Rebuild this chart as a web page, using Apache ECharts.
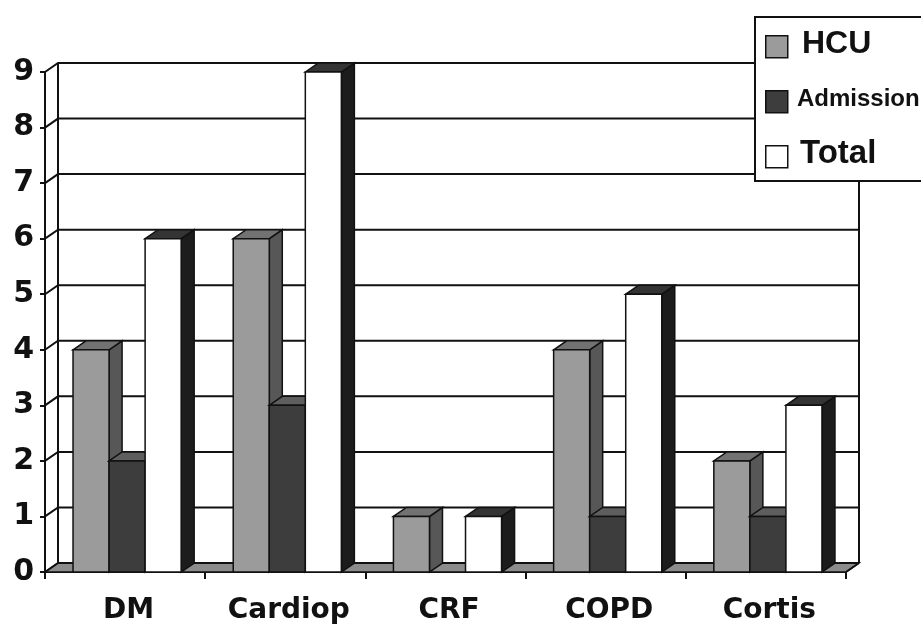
<!DOCTYPE html>
<html>
<head>
<meta charset="utf-8">
<script src="https://cdn.jsdelivr.net/npm/echarts@6/dist/echarts.min.js"></script>
<style>html,body{margin:0;padding:0;background:#fff;}#c{width:921px;height:632px;}</style>
</head>
<body>
<div id="c"></div>
<script>
const categories = ['DM', 'Cardiop', 'CRF', 'COPD', 'Cortis'];
const hcu = [4, 6, 1, 4, 2];
const admission = [2, 3, 0, 1, 1];
const total = [6, 9, 1, 5, 3];
const yTicks = [0, 1, 2, 3, 4, 5, 6, 7, 8, 9];
const seriesNames = ['HCU', 'Admission', 'Total'];

const DX = 13, DY = -9;
const palettes = [
  { front: '#9b9b9b', top: '#727272', side: '#575757' },
  { front: '#3d3d3d', top: '#5e5e5e', side: '#2a2a2a' },
  { front: '#ffffff', top: '#343434', side: '#1c1c1c' }
];

function barRenderer(idx) {
  const pal = palettes[idx];
  return function (params, api) {
    const i = api.value(0), v = api.value(1);
    if (!v) return null;
    const band = api.size([1, 0])[0];
    const w = band * 0.225;
    const c = api.coord([i, v]);
    const b = api.coord([i, 0]);
    const left = c[0] - 1.5 * w + idx * w + 2;
    const right = left + w;
    const yt = c[1], yb = b[1];
    const st = { stroke: '#111', lineWidth: 1.5 };
    return {
      type: 'group',
      children: [
        { type: 'polygon', shape: { points: [[right, yt], [right + DX, yt + DY], [right + DX, yb + DY], [right, yb]] },
          style: Object.assign({ fill: pal.side }, st) },
        { type: 'polygon', shape: { points: [[left, yt], [left + DX, yt + DY], [right + DX, yt + DY], [right, yt]] },
          style: Object.assign({ fill: pal.top }, st) },
        { type: 'rect', shape: { x: left, y: yt, width: w, height: yb - yt },
          style: Object.assign({ fill: pal.front }, st) }
      ]
    };
  };
}

function wallRenderer(params, api) {
  const band = api.size([1, 0])[0];
  const x0 = api.coord([0, 0])[0] - band / 2;
  const x1 = api.coord([categories.length - 1, 0])[0] + band / 2;
  const y0 = api.coord([0, 0])[1];
  const yTop = api.coord([0, yTicks[yTicks.length - 1]])[1];
  const children = [];
  const ls = { stroke: '#111', lineWidth: 2, fill: null };
  children.push({ type: 'polygon', shape: { points: [[x0, y0], [x1, y0], [x1 + DX, y0 + DY], [x0 + DX, y0 + DY]] },
    style: { fill: '#8c8c8c', stroke: '#111', lineWidth: 1.5 } });
  yTicks.forEach(function (t) {
    const y = api.coord([0, t])[1];
    children.push({ type: 'polyline', shape: { points: [[x0, y], [x0 + DX, y + DY], [x1 + DX, y + DY]] }, style: ls });
  });
  children.push({ type: 'line', shape: { x1: x0 + DX, y1: yTop + DY, x2: x0 + DX, y2: y0 + DY }, style: ls });
  children.push({ type: 'line', shape: { x1: x1 + DX, y1: yTop + DY, x2: x1 + DX, y2: y0 + DY }, style: ls });
  children.push({ type: 'line', shape: { x1: x1, y1: y0, x2: x1 + DX, y2: y0 + DY }, style: ls });
  return { type: 'group', children: children };
}

const chart = echarts.init(document.getElementById('c'), null, { renderer: 'canvas' });

const barSeries = [hcu, admission, total].map(function (arr, idx) {
  return {
    type: 'custom',
    name: seriesNames[idx],
    renderItem: barRenderer(idx),
    encode: { x: 0, y: 1 },
    itemStyle: { color: palettes[idx].front },
    data: arr.map(function (v, i) { return [i, v]; }),
    z: 3 + idx
  };
});

const legendItems = [
  { name: 'HCU', y: 46, fill: '#9b9b9b', font: 32 },
  { name: 'Admission', y: 101, fill: '#3d3d3d', font: 24 },
  { name: 'Total', y: 156, fill: '#ffffff', font: 33 }
];
const legendGraphics = [
  { type: 'rect', left: 754, top: 16, shape: { width: 200, height: 164 },
    style: { fill: '#fff', stroke: '#111', lineWidth: 2 }, z: 100 }
];
legendItems.forEach(function (it) {
  legendGraphics.push({ type: 'rect', left: 765, top: it.y - 11, shape: { width: 22, height: 22 },
    style: { fill: it.fill, stroke: '#111', lineWidth: 1.5 }, z: 101 });
  legendGraphics.push({ type: 'text', left: it.name === 'Admission' ? 797 : (it.name === 'HCU' ? 802 : 800), top: it.y - it.font * 0.56,
    style: { text: it.name, fill: '#111', font: 'bold ' + it.font + 'px "Liberation Sans", Arial, sans-serif' }, z: 101 });
});

chart.setOption({
  animation: false,
  backgroundColor: '#fff',
  grid: { left: 45, right: 75, top: 72, bottom: 60, containLabel: false },
  xAxis: {
    type: 'category',
    data: categories,
    axisLine: { show: true, lineStyle: { color: '#111', width: 2 } },
    axisTick: { show: true, length: 7, lineStyle: { color: '#111', width: 2 } },
    axisLabel: { color: '#111', fontFamily: 'DejaVu Sans', fontWeight: 'bold', fontSize: 28, margin: 25, padding: [0, 0, 0, 7] },
    splitLine: { show: false }
  },
  yAxis: {
    type: 'value',
    min: 0, max: 9, interval: 1,
    axisLine: { show: true, lineStyle: { color: '#111', width: 2 } },
    axisTick: { show: true, length: 5, lineStyle: { color: '#111', width: 2 } },
    axisLabel: { color: '#111', fontFamily: 'DejaVu Sans', fontWeight: 'bold', fontSize: 30, margin: 11 },
    splitLine: { show: false }
  },
  graphic: legendGraphics,
  series: [
    { type: 'custom', name: 'wall', renderItem: wallRenderer, encode: { x: 0, y: 1 }, data: [[0, 0]], z: 1, silent: true }
  ].concat(barSeries)
});
</script>
</body>
</html>
